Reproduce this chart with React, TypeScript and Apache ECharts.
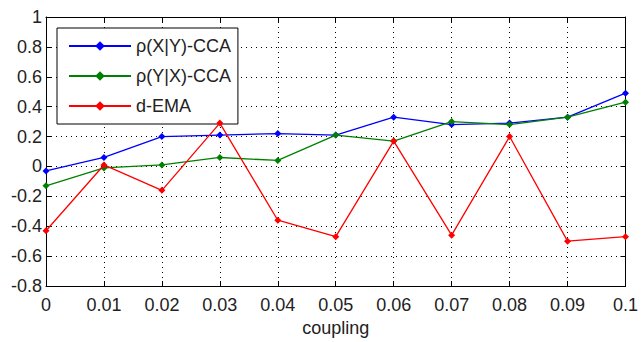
import React, { useEffect, useRef } from "react";
import * as echarts from "echarts";

const couplings = [0, 0.01, 0.02, 0.03, 0.04, 0.05, 0.06, 0.07, 0.08, 0.09, 0.1];
const xyCCA = [-0.03, 0.06, 0.2, 0.21, 0.22, 0.21, 0.33, 0.28, 0.29, 0.33, 0.49];
const yxCCA = [-0.13, -0.01, 0.01, 0.06, 0.04, 0.21, 0.17, 0.3, 0.28, 0.33, 0.43];
const dEMA = [-0.43, 0.01, -0.16, 0.29, -0.36, -0.47, 0.17, -0.46, 0.2, -0.5, -0.47];
const seriesNames = ["ρ(X|Y)-CCA", "ρ(Y|X)-CCA", "d-EMA"];
const seriesColors = ["#0000ff", "#008000", "#ff0000"];
const xTitle = "coupling";

const FONT = "'Liberation Sans', Arial, sans-serif";
const TEXT = "#222";

export default function App() {
  const ref = useRef<HTMLDivElement>(null);
  useEffect(() => {
    if (!ref.current) return;
    const chart = echarts.init(ref.current, null, { renderer: "svg" });
    const all = [xyCCA, yxCCA, dEMA];
    const gridLine = { show: true, lineStyle: { color: "#000", type: [1, 4] as any, width: 1 } };
    chart.setOption({
      animation: false,
      backgroundColor: "#fff",
      textStyle: { fontFamily: FONT },
      grid: { left: 46, top: 17, right: 9, bottom: 55 },
      legend: {
        orient: "vertical",
        left: 57,
        top: 28,
        backgroundColor: "#fff",
        borderColor: "#000",
        borderWidth: 1,
        borderRadius: 0,
        padding: [9, 7, 9, 11],
        itemWidth: 62,
        itemHeight: 12,
        itemGap: 12,
        textStyle: { fontSize: 18, color: TEXT, fontFamily: FONT },
        data: seriesNames,
      },
      xAxis: [
        {
          type: "value",
          min: 0,
          max: 0.1,
          interval: 0.01,
          name: xTitle,
          nameLocation: "middle",
          nameGap: 33,
          nameTextStyle: { fontSize: 18, color: TEXT, fontFamily: FONT, verticalAlign: "top", lineHeight: 18 },
          axisLine: { show: true, onZero: false, lineStyle: { color: "#000", width: 1 } },
          axisTick: { show: true, inside: true, length: 5, lineStyle: { color: "#000" } },
          axisLabel: {
            fontSize: 18,
            color: TEXT,
            margin: 10,
            fontFamily: FONT,
            formatter: (v: number) => String(parseFloat(v.toFixed(2))),
          },
          splitLine: gridLine,
        },
        {
          type: "value",
          position: "top",
          min: 0,
          max: 0.1,
          interval: 0.01,
          axisLine: { show: true, onZero: false, lineStyle: { color: "#000", width: 1 } },
          axisTick: { show: true, inside: true, length: 5, lineStyle: { color: "#000" } },
          axisLabel: { show: false },
          splitLine: { show: false },
        },
      ],
      yAxis: [
        {
          type: "value",
          min: -0.8,
          max: 1,
          interval: 0.2,
          axisLine: { show: true, onZero: false, lineStyle: { color: "#000", width: 1 } },
          axisTick: { show: true, inside: true, length: 5, lineStyle: { color: "#000" } },
          axisLabel: {
            fontSize: 18,
            color: TEXT,
            margin: 4,
            fontFamily: FONT,
            formatter: (v: number) => String(parseFloat(v.toFixed(1))),
          },
          splitLine: gridLine,
        },
        {
          type: "value",
          position: "right",
          min: -0.8,
          max: 1,
          interval: 0.2,
          axisLine: { show: true, onZero: false, lineStyle: { color: "#000", width: 1 } },
          axisTick: { show: true, inside: true, length: 5, lineStyle: { color: "#000" } },
          axisLabel: { show: false },
          splitLine: { show: false },
        },
      ],
      series: all.map((vals, i) => ({
        name: seriesNames[i],
        type: "line",
        xAxisIndex: 0,
        yAxisIndex: 0,
        data: couplings.map((x, j) => [x, vals[j]]),
        symbol: "diamond",
        symbolSize: 7,
        showSymbol: true,
        color: seriesColors[i],
        lineStyle: { color: seriesColors[i], width: 1.3 },
        itemStyle: { color: seriesColors[i] },
        z: 3 + i,
      })),
    });
    return () => chart.dispose();
  }, []);
  return (
    <div
      ref={ref}
      style={{ width: 641, height: 342, position: "fixed", left: 0, top: 0, background: "#fff" }}
    />
  );
}
